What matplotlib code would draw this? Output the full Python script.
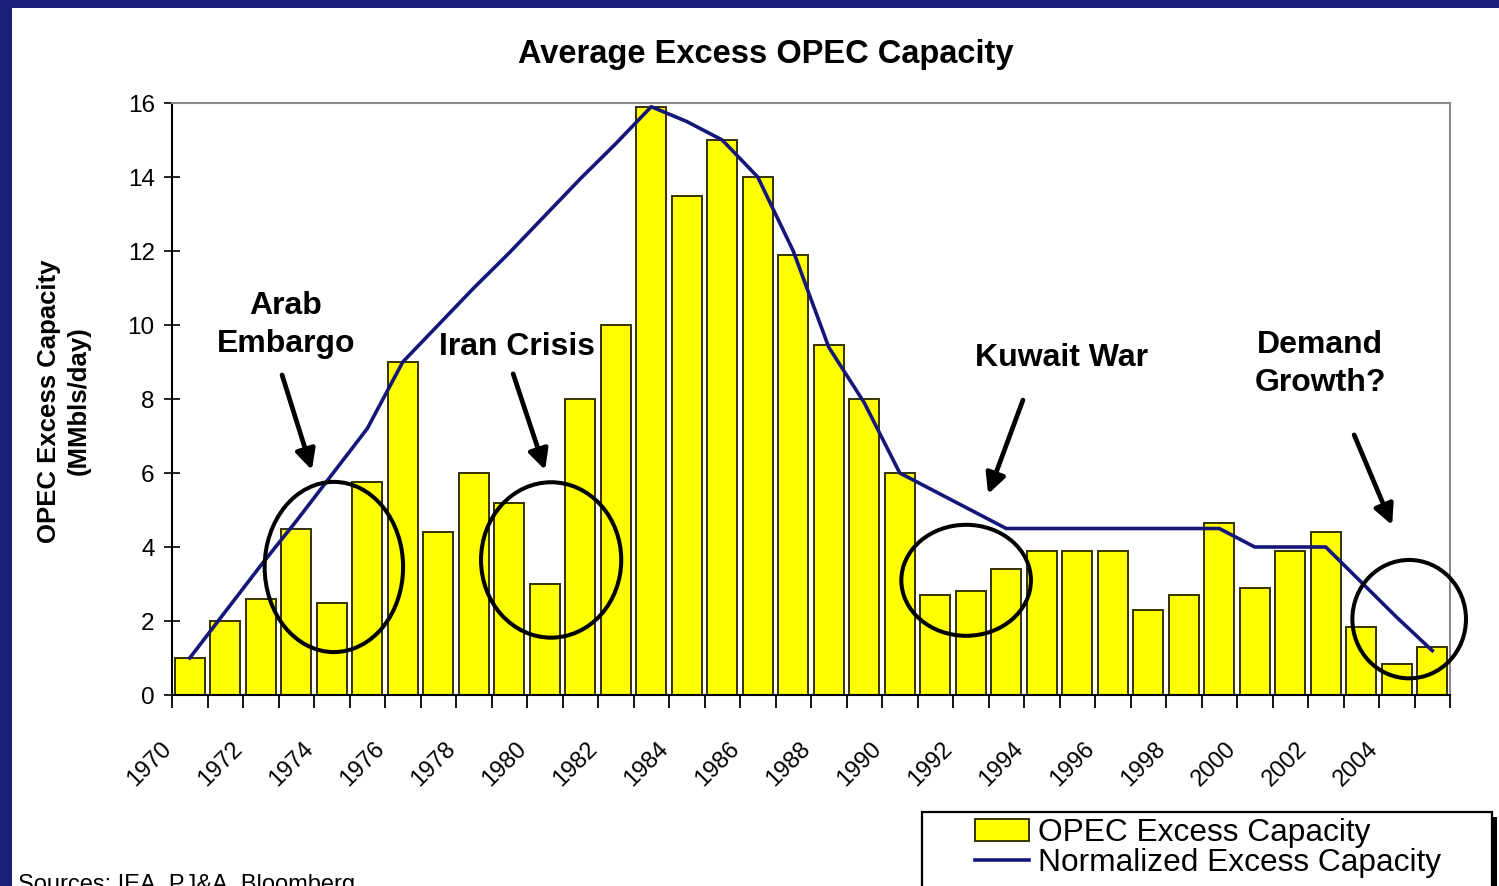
import matplotlib
matplotlib.use('Agg')
import matplotlib.pyplot as plt
import matplotlib.transforms as mtransforms
from matplotlib.patches import Ellipse, Rectangle

plt.rcParams['font.family'] = ['Liberation Sans', 'DejaVu Sans']

# data
years = list(range(1970, 2006))
excess_capacity = [1.0, 2.0, 2.6, 4.5, 2.5, 5.75, 9.0, 4.4, 6.0, 5.2,
                   3.0, 8.0, 10.0, 15.9, 13.5, 15.0, 14.0, 11.9, 9.45, 8.0,
                   6.0, 2.7, 2.8, 3.4, 3.9, 3.9, 3.9, 2.3, 2.7, 4.65,
                   2.9, 3.9, 4.4, 1.85, 0.85, 1.3]
normalized_capacity = [1.0, 2.25, 3.5, 4.7, 5.95, 7.2, 9.0, 10.0, 11.0, 11.95,
                       12.95, 13.95, 14.9, 15.9, 15.5, 15.0, 14.0, 12.0, 9.4, 7.9,
                       6.0, 5.5, 5.0, 4.5, 4.5, 4.5, 4.5, 4.5, 4.5, 4.5,
                       4.0, 4.0, 4.0, 3.05, 2.1, 1.2]
y_ticks = [0, 2, 4, 6, 8, 10, 12, 14, 16]

# callouts: label, text position, arrow tail, arrow tip, circle centre, circle size
event_labels = ['Arab\nEmbargo', 'Iran Crisis', 'Kuwait War', 'Demand\nGrowth?']
label_pos = [(2.71, 10.0), (9.22, 9.4), (24.57, 9.1), (31.84, 8.95)]
arrow_tail = [(2.60, 8.65), (9.11, 8.68), (23.47, 7.97), (32.80, 7.03)]
arrow_tip = [(3.44, 6.08), (10.01, 6.08), (22.49, 5.43), (33.87, 4.59)]
circle_center = [(4.06, 3.46), (10.18, 3.65), (21.87, 3.1), (34.35, 2.05)]
circle_size = [(3.9, 4.6), (3.95, 4.2), (3.65, 3.0), (3.2, 3.2)]


def plot_excess_capacity():
    """
    Bar chart of OPEC excess capacity with the normalized trend line on top.
    """
    W, H = 1499, 886
    fig = plt.figure(figsize=(W / 100, H / 100), dpi=100)
    fig.patch.set_facecolor('#1e1e7c')

    # white slide panel over the blue border
    fig.patches.append(Rectangle((12 / W, 0), 1, 1 - 8 / H, transform=fig.transFigure,
                                 facecolor='white', edgecolor='none', zorder=-5))

    ax = fig.add_axes([172 / W, 1 - 695 / H, (1450 - 172) / W, (695 - 103) / H])
    ax.set_zorder(0)
    x = list(range(len(years)))

    bars = ax.bar(x, excess_capacity, width=0.85, color='#ffff00',
                  edgecolor='#333300', linewidth=1.4, zorder=2)
    line, = ax.plot(x, normalized_capacity, color='#16167a', linewidth=2.6, zorder=3)

    ax.set_xlim(-0.5, len(years) - 0.5)
    ax.set_ylim(0, 16)

    # y axis
    ax.set_yticks(y_ticks)
    ax.set_yticklabels([str(v) for v in y_ticks], fontsize=17.5)
    ax.tick_params(axis='y', direction='inout', length=11, width=1.2, pad=7, color='black')

    # x axis: ticks between categories, labels every other year
    ax.set_xticks([i - 0.5 for i in range(len(years) + 1)], minor=True)
    ax.tick_params(axis='x', which='minor', direction='out', length=9, width=1.3)
    ax.set_xticks(x[::2])
    ax.set_xticklabels([str(y) for y in years[::2]], rotation=45, ha='right',
                       va='top', fontsize=17)
    ax.tick_params(axis='x', which='major', length=0, pad=31)
    offset = mtransforms.ScaledTranslation(-0.14, 0, fig.dpi_scale_trans)
    for lbl in ax.get_xticklabels():
        lbl.set_transform(lbl.get_transform() + offset)

    for side in ['left', 'bottom']:
        ax.spines[side].set_linewidth(1.5)
        ax.spines[side].set_color('black')
    for side in ['top', 'right']:
        ax.spines[side].set_linewidth(1.5)
        ax.spines[side].set_color('#8a8a8a')

    # callouts
    for i, label in enumerate(event_labels):
        ax.text(label_pos[i][0], label_pos[i][1], label, fontsize=23, fontweight='bold',
                ha='center', va='center', linespacing=1.35, zorder=5)
        ax.annotate('', xy=arrow_tip[i], xytext=arrow_tail[i],
                    arrowprops=dict(arrowstyle='-|>', lw=3.4, color='black',
                                    mutation_scale=30, shrinkA=0, shrinkB=0),
                    zorder=5)
        ax.add_patch(Ellipse(circle_center[i], circle_size[i][0], circle_size[i][1],
                             fill=False, edgecolor='black', linewidth=2.9,
                             zorder=4, clip_on=False))

    fig.text(766 / W, 1 - 55 / H, 'Average Excess OPEC Capacity', fontsize=23.5,
             fontweight='bold', ha='center', va='center')
    fig.text(64 / W, 1 - 401 / H, 'OPEC Excess Capacity\n(MMbls/day)', fontsize=18.5,
             fontweight='bold', rotation=90, ha='center', va='center', linespacing=1.3)
    fig.text(18 / W, 1 - 891 / H, 'Sources: IEA, PJ&A, Bloomberg', fontsize=17,
             ha='left', va='baseline')

    # legend box with drop shadow
    fig.patches.append(Rectangle((927 / W, -0.05), (1492 - 922) / W, 1 - 817 / H + 0.05,
                                 transform=fig.transFigure, facecolor='black',
                                 edgecolor='none', zorder=1))
    fig.patches.append(Rectangle((922 / W, -0.05), (1492 - 922) / W, 1 - 812 / H + 0.05,
                                 transform=fig.transFigure, facecolor='white',
                                 edgecolor='black', linewidth=1.6, zorder=2))
    leg = fig.legend([bars, line], ['OPEC Excess Capacity', 'Normalized Excess Capacity'],
                     loc='upper left', bbox_to_anchor=(975 / W, 1 - 818 / H),
                     frameon=False, fontsize=22.8, borderpad=0, borderaxespad=0,
                     handlelength=1.7, handletextpad=0.3, labelspacing=0.0)
    leg.set_zorder(3)

    fig.savefig('out.png', dpi=100, facecolor=fig.get_facecolor())


plot_excess_capacity()
